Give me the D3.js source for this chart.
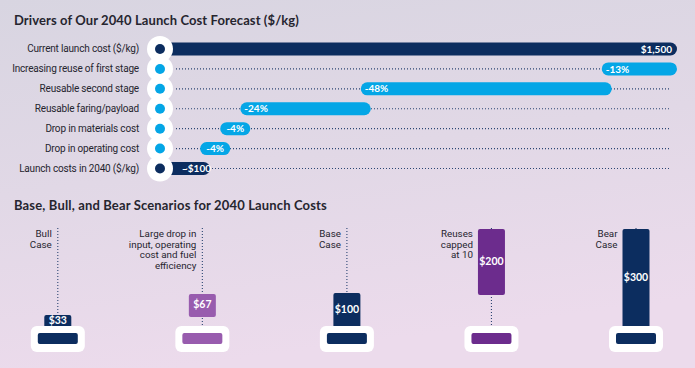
<!DOCTYPE html>
<html><head><meta charset="utf-8">
<script src="https://cdn.jsdelivr.net/npm/d3@7"></script>
<style>
html,body{margin:0;padding:0;background:#e2dbe8;}
svg{display:block;}
</style></head>
<body>
<svg id="chart" width="695" height="368"></svg>
<script>
// ---------- DATA ----------
const drivers = ["Current launch cost ($/kg)", "Increasing reuse of first stage", "Reusable second stage",
  "Reusable faring/payload", "Drop in materials cost", "Drop in operating cost", "Launch costs in 2040 ($/kg)"];
const driverType = ["total", "change", "change", "change", "change", "change", "total"];
const driverStart = [0, 1500, 1305, 585, 225, 165, 0];
const driverEnd = [1500, 1305, 585, 225, 165, 105, 105];
const driverLabels = ["$1,500", "-13%", "-48%", "-24%", "-4%", "-4%", "~$100"];

const scenarios = ["Bull Case", "Large drop in input, operating cost and fuel efficiency", "Base Case", "Reuses capped at 10", "Bear Case"];
const scenarioLines = [["Bull", "Case"], ["Large drop in", "input, operating", "cost and fuel", "efficiency"],
  ["Base", "Case"], ["Reuses", "capped", "at 10"], ["Bear", "Case"]];
const scenarioStart = [0, 33, 0, 100, 0];
const scenarioEnd = [33, 67, 100, 200, 300];
const scenarioLabels = ["$33", "$67", "$100", "$200", "$300"];
const scenarioKind = ["case", "driver", "case", "capped", "case"];

// ---------- STYLE ----------
const NAVY = "#0c2d5f", BLUE = "#04a6e6", LPURP = "#985cae", DPURP = "#6c2c8d";
const TXT = "#26252f";
const titleFont = "Lato, 'Open Sans', sans-serif";
const labelFont = "Roboto, sans-serif";

const svg = d3.select("#chart");
const defs = svg.append("defs");
const bg = defs.append("linearGradient").attr("id", "bg").attr("x1", 0).attr("y1", 0).attr("x2", 0.25).attr("y2", 1);
bg.append("stop").attr("offset", "0%").attr("stop-color", "#d8d5e1");
bg.append("stop").attr("offset", "50%").attr("stop-color", "#e1d8e6");
bg.append("stop").attr("offset", "100%").attr("stop-color", "#ecdbec");
svg.append("rect").attr("width", 695).attr("height", 368).attr("fill", "url(#bg)");

// ---------- TOP CHART ----------
svg.append("text").attr("x", 14).attr("y", 25).text("Drivers of Our 2040 Launch Cost Forecast ($/kg)")
  .attr("font-family", titleFont).attr("font-weight", 700).attr("font-size", 13)
  .attr("letter-spacing", 0.1).attr("fill", TXT);

const y1 = d3.scalePoint().domain(drivers).range([49, 168.5]);
const x1 = d3.scaleLinear().domain([0, 1500]).range([165, 667]);
const cap = 10, barH = 13, cx = 160;

const g1 = svg.append("g");
// dotted guides
g1.selectAll(".guide").data(drivers).join("line")
  .attr("x1", 176).attr("x2", 670).attr("y1", d => y1(d)).attr("y2", d => y1(d))
  .attr("stroke", NAVY).attr("stroke-width", 1.1).attr("stroke-dasharray", "1 2").attr("opacity", 0.85);

// bars
const bars1 = drivers.map((d, i) => {
  const lo = Math.min(driverStart[i], driverEnd[i]), hi = Math.max(driverStart[i], driverEnd[i]);
  return {d, i, x: x1(lo), w: x1(hi) - x1(lo) + cap};
});
g1.selectAll(".bar").data(bars1).join("rect")
  .attr("x", b => b.x).attr("width", b => b.w)
  .attr("y", b => y1(b.d) - barH / 2).attr("height", barH).attr("rx", barH / 2)
  .attr("fill", b => driverType[b.i] === "total" ? NAVY : BLUE);

// labels in bars
g1.selectAll(".vlab").data(bars1).join("text")
  .attr("x", b => {
    if (b.i === 0) return b.x + b.w - 5;
    if (driverType[b.i] === "total") return b.x + 17;
    return b.w > 45 ? b.x + 4 : b.x + b.w / 2;
  })
  .attr("text-anchor", b => b.i === 0 ? "end" : (driverType[b.i] === "total" || b.w > 45 ? "start" : "middle"))
  .attr("y", b => y1(b.d) + 3.6)
  .attr("font-family", titleFont).attr("font-weight", 700).attr("font-size", 10).attr("fill", "#fff")
  .text(b => driverLabels[b.i]);

// white column + dots
g1.selectAll(".wc").data(drivers).join("circle")
  .attr("cx", cx).attr("cy", d => y1(d)).attr("r", 13).attr("fill", "#fff");
g1.selectAll(".dot").data(drivers).join("circle")
  .attr("cx", cx).attr("cy", d => y1(d)).attr("r", 5)
  .attr("fill", (d, i) => driverType[i] === "total" ? NAVY : BLUE);

// category labels
g1.selectAll(".clab").data(drivers).join("text")
  .attr("x", 139).attr("y", d => y1(d) + 3.4).attr("text-anchor", "end")
  .attr("font-family", labelFont).attr("font-size", 10).attr("letter-spacing", -0.18).attr("fill", TXT)
  .text(d => d);

// ---------- BOTTOM CHART ----------
svg.append("text").attr("x", 14).attr("y", 210).text("Base, Bull, and Bear Scenarios for 2040 Launch Costs")
  .attr("font-family", titleFont).attr("font-weight", 700).attr("font-size", 13)
  .attr("letter-spacing", 0.15).attr("fill", TXT);

const x2 = d3.scalePoint().domain(scenarios).range([57.8, 636]);
// illustrative (non-proportional) value scale as drawn in the source graphic
const y2 = d3.scaleLinear().domain([0, 33, 67, 100, 200, 300]).range([326, 315, 294, 293, 229, 229]);
const colorOf = k => k === "case" ? NAVY : (k === "driver" ? LPURP : DPURP);
const bw = 27;

const g2 = svg.append("g");
g2.selectAll(".vline").data(scenarios).join("line")
  .attr("x1", d => x2(d)).attr("x2", d => x2(d)).attr("y1", 228).attr("y2", 326)
  .attr("stroke", NAVY).attr("stroke-width", 1.1).attr("stroke-dasharray", "1 2").attr("opacity", 0.85);

g2.selectAll(".sbar").data(scenarios).join("rect")
  .attr("x", d => x2(d) - bw / 2).attr("width", bw)
  .attr("y", (d, i) => y2(scenarioEnd[i])).attr("height", (d, i) => y2(scenarioStart[i]) - y2(scenarioEnd[i]) + 2)
  .attr("rx", 2).attr("fill", (d, i) => colorOf(scenarioKind[i]));

g2.selectAll(".box").data(scenarios).join("rect")
  .attr("x", d => x2(d) - 27).attr("width", 54).attr("y", 326).attr("height", 26).attr("rx", 6).attr("fill", "#fff");
g2.selectAll(".inner").data(scenarios).join("rect")
  .attr("x", d => x2(d) - 20).attr("width", 40).attr("y", 333).attr("height", 11).attr("rx", 2)
  .attr("fill", (d, i) => colorOf(scenarioKind[i]));

g2.selectAll(".slab").data(scenarios).join("text")
  .attr("x", d => x2(d)).attr("text-anchor", "middle")
  .attr("y", (d, i) => (y2(scenarioEnd[i]) + y2(scenarioStart[i])) / 2 + 3.8)
  .attr("font-family", titleFont).attr("font-weight", 700).attr("font-size", 10.5).attr("fill", "#fff")
  .text((d, i) => scenarioLabels[i]);

const notes = g2.selectAll(".note").data(scenarios).join("text")
  .attr("text-anchor", "end")
  .attr("font-family", labelFont).attr("font-size", 9.8).attr("fill", TXT);
notes.each(function (d, i) {
  const tall = y2(scenarioEnd[i]) < 240;
  const xx = x2(d) - (tall ? 18.5 : 6);
  d3.select(this).selectAll("tspan").data(scenarioLines[i]).join("tspan")
    .attr("x", xx).attr("y", (t, j) => 236.8 + j * 10.7).text(t => t);
});
</script>
</body></html>
